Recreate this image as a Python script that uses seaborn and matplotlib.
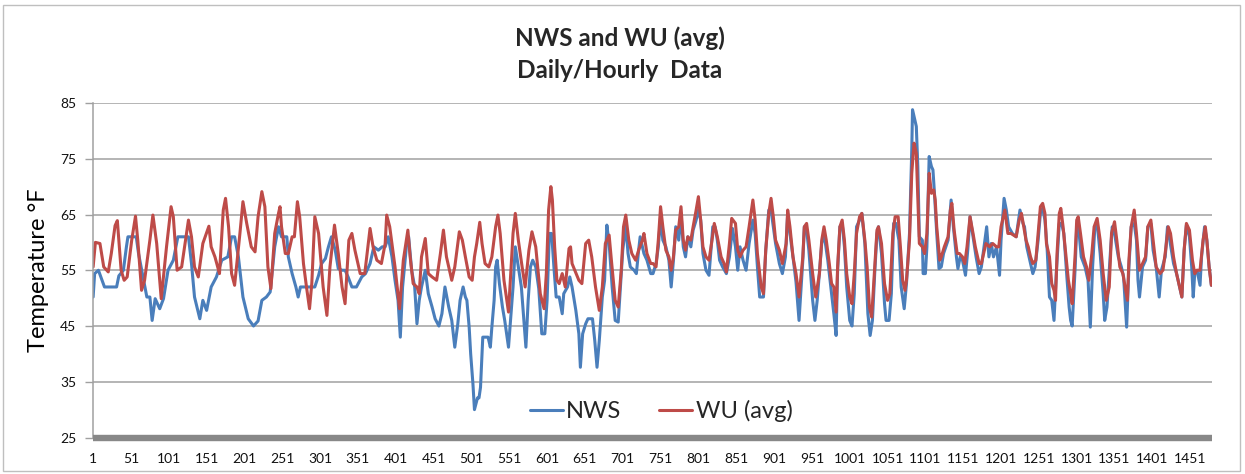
import numpy as np
import pandas as pd
import matplotlib
matplotlib.use('Agg')
import matplotlib.pyplot as plt
import seaborn as sns
from matplotlib.patches import Rectangle

# hourly readings at the turning points (hour index, deg F)
nws_x = [1, 3, 8, 12, 16, 32, 35, 41, 45, 47, 58, 61, 67, 72, 76, 79, 83, 89, 94, 100,
         107, 113, 127, 131, 135, 142, 146, 151, 157, 164, 171, 179, 184, 188, 193, 199, 206, 213, 219, 224,
         230, 235, 241, 246, 250, 257, 259, 264, 269, 272, 275, 294, 299, 303, 308, 312, 316, 321, 325, 330,
         334, 338, 343, 349, 356, 361, 367, 372, 378, 383, 387, 391, 396, 400, 404, 407, 410, 415, 418, 422,
         426, 429, 432, 435, 440, 444, 449, 453, 458, 462, 466, 471, 475, 479, 483, 486, 490, 493, 495, 498,
         500, 503, 505, 509, 511, 513, 516, 523, 526, 528, 531, 533, 535, 538, 542, 545, 550, 553, 556, 559,
         563, 567, 570, 573, 576, 579, 582, 586, 590, 594, 598, 601, 604, 607, 610, 613, 617, 621, 623, 628,
         631, 634, 639, 643, 645, 648, 652, 655, 661, 664, 667, 670, 674, 677, 680, 683, 687, 691, 695, 698,
         701, 705, 708, 711, 716, 719, 722, 724, 729, 733, 738, 741, 745, 748, 751, 754, 758, 762, 765, 768,
         771, 775, 778, 781, 784, 787, 791, 794, 798, 801, 804, 807, 811, 815, 820, 823, 826, 829, 833, 838,
         842, 846, 850, 853, 856, 860, 864, 868, 873, 876, 879, 882, 887, 890, 894, 897, 900, 903, 908, 912,
         916, 919, 922, 926, 930, 934, 939, 941, 944, 947, 952, 955, 958, 964, 967, 972, 976, 980, 983, 985,
         988, 991, 994, 997, 1001, 1004, 1007, 1010, 1014, 1017, 1021, 1025, 1028, 1031, 1034, 1037, 1039, 1043, 1047, 1049,
         1053, 1056, 1059, 1062, 1066, 1069, 1073, 1076, 1080, 1083, 1084, 1087, 1089, 1091, 1093, 1097, 1098, 1101, 1103, 1106,
         1109, 1111, 1113, 1116, 1119, 1122, 1125, 1131, 1135, 1138, 1142, 1144, 1147, 1150, 1154, 1157, 1160, 1164, 1168, 1172,
         1175, 1179, 1182, 1185, 1188, 1191, 1195, 1199, 1201, 1205, 1208, 1211, 1216, 1221, 1226, 1230, 1232, 1235, 1237, 1239,
         1243, 1246, 1250, 1253, 1256, 1259, 1262, 1265, 1268, 1271, 1274, 1278, 1281, 1284, 1288, 1291, 1293, 1295, 1299, 1301,
         1303, 1307, 1312, 1316, 1319, 1322, 1325, 1328, 1332, 1336, 1338, 1341, 1346, 1348, 1351, 1356, 1360, 1363, 1367, 1370,
         1373, 1377, 1380, 1382, 1384, 1388, 1392, 1395, 1399, 1402, 1406, 1410, 1413, 1418, 1421, 1424, 1429, 1433, 1437, 1440,
         1443, 1446, 1450, 1453, 1455, 1457, 1460, 1464, 1466, 1470, 1473, 1476, 1479]
nws_temp = [50.2, 54.4, 55, 53.5, 52, 52, 54, 55, 59.2, 61, 61, 58, 53.8, 50.2, 50.2, 46, 49.9, 48.1, 49.9, 55,
            56.8, 61, 61, 56.2, 50.2, 46.3, 49.6, 47.8, 52, 53.8, 56.8, 57.4, 61, 61, 57.4, 50.2, 46.3, 45, 45.9, 49.6,
            50.2, 51.1, 59.2, 62.8, 61, 61, 57.4, 54.4, 52, 50.2, 52, 52, 54.1, 56.2, 57.1, 59.2, 61, 58.6, 55.3, 55,
            55, 53.8, 52, 52, 53.8, 54.4, 56.2, 59.2, 58.6, 59.2, 59.2, 61, 57.4, 53.2, 49.6, 43, 52, 59.2, 61, 55,
            52, 45.4, 49.6, 52, 55, 50.8, 48.4, 46.3, 45, 47.2, 52, 48.4, 46, 41.2, 45.4, 49.6, 52, 50.2, 49.6, 44.8,
            40, 34.6, 30, 32.1, 32.1, 34, 43, 43, 41.2, 44.8, 49.6, 55.6, 56.8, 52.6, 48.4, 46, 41.2, 46.6, 52, 59.2,
            55.6, 52, 46.6, 41.2, 49.6, 55.6, 56.8, 55.6, 51.7, 43.6, 43.6, 49.6, 61.6, 61.6, 55.6, 50.2, 50.2, 47.2, 50.8, 52,
            53.8, 52, 47.8, 43.6, 37.6, 43.6, 45.4, 46.3, 46.3, 42.4, 37.6, 42.4, 50.2, 53.2, 63.1, 59.8, 52, 46, 45.7, 52,
            58.6, 63.1, 58, 55.6, 55, 54.4, 58.6, 61, 58, 56.8, 54.4, 54.4, 56.2, 59.2, 64.6, 60.4, 59.2, 56.8, 52, 56.8,
            62.8, 60.4, 65.2, 59.2, 57.4, 61, 59.2, 62.2, 64, 65.8, 64, 58, 55, 54.1, 62.8, 62.8, 60.4, 56.8, 55.6, 54.4,
            57.4, 62.5, 59.2, 55, 59.2, 56.8, 55, 59.8, 64, 61.6, 55.6, 50.2, 50.2, 58.6, 65.8, 65.8, 62.8, 59.8, 56.2, 54.4,
            57.4, 65.2, 61.6, 57.4, 52.9, 46, 56.8, 62.8, 62.2, 58.6, 49.6, 46, 49.6, 59.8, 61.6, 56.8, 52, 47.2, 43.3, 55,
            62.8, 63.4, 59.2, 52, 46, 45, 50.8, 62.8, 64, 65.2, 59.8, 47.2, 43.3, 46, 54.4, 61.6, 62.8, 58, 49, 46,
            46, 50.8, 63.4, 63.4, 60.4, 52, 48.1, 52.6, 61.6, 76.6, 83.8, 82, 80.8, 73.6, 61, 60.4, 54.4, 54.4, 59.2, 75.4,
            73.6, 73, 68.8, 61.6, 55.3, 55.6, 58, 60.4, 67.6, 62.8, 57.4, 55.3, 57.4, 56.8, 54.1, 58.6, 64.6, 61, 57.4, 54.4,
            55.6, 59.8, 62.8, 57.4, 59.8, 57.4, 59.2, 54.1, 60.4, 67.9, 65.8, 62.8, 61.6, 61, 65.8, 63.4, 62.8, 59.2, 58, 56.8,
            54.4, 55.6, 60.4, 65.2, 66.1, 64, 58.6, 50.2, 49.6, 46, 54.4, 63.4, 63.4, 61.6, 53.8, 48.4, 46, 45, 55.6, 62.8,
            63.4, 57.4, 55.6, 53.2, 44.8, 55.6, 62.8, 63.4, 58, 50.8, 46, 48.4, 59.2, 62.8, 61.6, 57.4, 55.6, 53.8, 44.8, 55.6,
            62.8, 63.4, 60.4, 53.2, 50.2, 55.6, 56.8, 62.8, 63.4, 58.6, 55.6, 50.2, 55, 57.4, 62.8, 60.4, 56.2, 54.4, 52, 50.2,
            58.6, 63.1, 61, 55.6, 50.2, 54.4, 55, 52.3, 57.4, 62.8, 60.4, 55.6, 52.3]

wu_x = [1, 4, 10, 15, 21, 25, 30, 33, 38, 42, 46, 52, 57, 60, 65, 69, 76, 80, 85, 91,
        98, 104, 107, 112, 118, 127, 131, 135, 140, 146, 154, 157, 162, 168, 173, 176, 180, 184, 188, 195,
        199, 204, 210, 215, 219, 224, 228, 232, 236, 241, 246, 248, 250, 255, 259, 264, 267, 271, 274, 279,
        283, 287, 290, 294, 299, 305, 310, 314, 320, 325, 330, 334, 339, 343, 347, 354, 360, 367, 371, 376,
        382, 387, 389, 393, 400, 406, 411, 417, 420, 424, 429, 432, 435, 440, 444, 449, 455, 460, 464, 468,
        475, 479, 485, 489, 493, 498, 502, 505, 508, 512, 515, 519, 524, 528, 533, 536, 539, 544, 550, 553,
        556, 559, 563, 568, 572, 577, 581, 586, 592, 597, 600, 603, 606, 608, 611, 614, 617, 621, 625, 630,
        632, 634, 643, 647, 652, 656, 660, 665, 670, 674, 678, 683, 686, 691, 695, 699, 702, 705, 709, 713,
        718, 722, 727, 729, 733, 738, 741, 745, 748, 751, 754, 758, 762, 765, 768, 771, 775, 778, 781, 784,
        787, 791, 794, 798, 801, 804, 807, 811, 815, 819, 822, 826, 831, 835, 838, 842, 845, 850, 853, 856,
        860, 864, 868, 873, 876, 879, 884, 887, 890, 894, 897, 900, 903, 908, 912, 917, 919, 922, 926, 930,
        934, 939, 941, 944, 947, 952, 956, 961, 964, 967, 970, 974, 977, 980, 983, 985, 988, 991, 994, 997,
        1001, 1004, 1007, 1010, 1014, 1017, 1021, 1024, 1027, 1030, 1034, 1037, 1039, 1043, 1047, 1051, 1054, 1058, 1061, 1065,
        1068, 1071, 1074, 1076, 1080, 1083, 1086, 1089, 1091, 1093, 1097, 1100, 1103, 1106, 1109, 1112, 1114, 1116, 1120, 1122,
        1126, 1131, 1134, 1136, 1139, 1143, 1146, 1150, 1153, 1156, 1160, 1164, 1167, 1172, 1175, 1178, 1181, 1186, 1190, 1195,
        1198, 1201, 1206, 1210, 1214, 1221, 1225, 1228, 1231, 1234, 1237, 1240, 1243, 1247, 1250, 1253, 1256, 1259, 1261, 1265,
        1268, 1271, 1273, 1275, 1278, 1280, 1283, 1287, 1290, 1293, 1295, 1299, 1301, 1303, 1306, 1310, 1314, 1317, 1321, 1324,
        1328, 1332, 1336, 1340, 1344, 1347, 1351, 1354, 1358, 1362, 1365, 1368, 1370, 1373, 1377, 1380, 1384, 1388, 1392, 1395,
        1399, 1402, 1406, 1411, 1415, 1419, 1422, 1425, 1429, 1433, 1436, 1440, 1443, 1446, 1450, 1454, 1457, 1460, 1464, 1468,
        1471, 1473, 1476, 1479]
wu_temp = [55.6, 60, 59.8, 55.6, 54.7, 58, 63, 63.9, 55, 53.2, 53.8, 60.4, 64.7, 60.4, 51.4, 53.2, 60.4, 64.9, 59.8, 49.9,
           59.2, 66.4, 64.6, 55, 55.6, 64, 61, 55.6, 53.8, 59.8, 62.9, 59.2, 57.4, 54.4, 65.8, 67.9, 62.8, 54.4, 52.3, 61.6,
           67.3, 63.4, 59.2, 58.3, 64.6, 69.1, 66.4, 55.6, 51.7, 61.6, 65.2, 66.4, 62.8, 58, 58, 61, 61, 67.3, 64.6, 56.2,
           52, 48.1, 52.6, 64.6, 61.6, 52, 46.9, 55.6, 63.1, 58, 52, 49, 60.4, 61.6, 58.6, 54.4, 54.4, 62.5, 59.2, 56.8,
           56.2, 59.8, 64.9, 62.8, 55.6, 48.1, 56.8, 62.2, 57.4, 52.6, 52, 50.8, 57.4, 60.7, 54.4, 53.8, 53.2, 58, 62.2, 57.4,
           53.2, 55.6, 61.9, 60.4, 57.4, 53.8, 53.2, 57.4, 59.8, 63.6, 59.8, 56.2, 55.6, 57.4, 62.8, 64.9, 61.6, 53.2, 47.5, 54.4,
           61.6, 65.2, 60.4, 55.6, 52, 58.6, 61.9, 59.2, 50.8, 48.1, 54.4, 65.8, 70, 67.6, 59.2, 53.2, 52.6, 54.4, 52, 58.9,
           59.2, 56.2, 53.2, 52.6, 59.8, 60.4, 57.4, 52, 47.8, 52, 59.8, 61.3, 56.8, 49.6, 48.4, 55, 62.8, 64.9, 60.4, 58,
           56.8, 58.6, 60.4, 61.6, 58, 56.2, 56.2, 55.6, 60.4, 66.4, 62.8, 58.6, 57.4, 55, 57.4, 62.2, 62.8, 66.4, 60.4, 58.6,
           61, 60.4, 62.8, 65.8, 68.2, 64, 59.2, 57.4, 56.8, 60.4, 63.4, 61, 57.4, 56.2, 54.7, 59.8, 64.3, 63.4, 58.6, 57.4,
           58.6, 59.2, 62.8, 67.6, 64, 58, 52, 50.8, 58.6, 65.2, 67.9, 64.6, 60.4, 58.6, 56.2, 59.8, 65.8, 62.8, 57.4, 54.4,
           50.2, 57.4, 62.8, 63.4, 60.4, 54.4, 50.2, 54.4, 60.4, 62.8, 60.4, 56.2, 52.6, 52, 47.5, 55.6, 62.8, 64, 60.4, 54.4,
           50.2, 49, 54.4, 61.6, 64.6, 65.2, 60.4, 55.6, 48.4, 46.6, 55.6, 62.2, 62.8, 59.8, 52.6, 49.6, 50.8, 61.6, 64.6, 64.6,
           59.2, 53.2, 51.4, 53.2, 60.4, 72.4, 77.8, 76, 67.6, 59.8, 59.2, 58, 61.6, 72.4, 68.8, 69.4, 67.6, 62.8, 56.8, 57.4,
           59.2, 61, 65.8, 67, 62.2, 58, 58, 57.4, 56.2, 59.2, 64.6, 61.6, 59.2, 56.2, 56.2, 58, 59.8, 59.2, 59.8, 59.2,
           59.2, 62.8, 65.8, 61.6, 61.6, 61, 64, 65.2, 62.8, 60.4, 59.2, 57.4, 56.2, 56.8, 61.6, 66.4, 67, 65.2, 59.8, 57.4,
           52.6, 51.4, 49.6, 58, 65.2, 66.1, 62.8, 57.4, 53.2, 50.8, 49, 58, 64, 64.6, 61.6, 57.4, 55.6, 53.2, 58, 62.8,
           64.3, 60.4, 54.4, 49.6, 52, 61.6, 63.7, 60.4, 55.6, 54.4, 52, 49.6, 56.8, 62.8, 65.8, 61.6, 55, 56.2, 57.4, 62.8,
           64, 60.4, 55.6, 54.4, 55, 59.2, 62.8, 61.6, 57.4, 54.4, 52.6, 50.2, 58.6, 63.4, 62.2, 56.8, 54.4, 55, 55, 60.4,
           62.8, 60.4, 55.6, 52.3]

x_ticks = list(range(1, 1452, 50))
y_ticks = [25, 35, 45, 55, 65, 75, 85]

nws_color = '#4A7EBB'
wu_color = '#BE4B48'

sns.set_style('white')
plt.rcParams['font.family'] = ['Lato', 'DejaVu Sans']

fig = plt.figure(figsize=(12.45, 4.74), dpi=100)
ax = fig.add_axes([0.0745, 0.077, 0.8988, 0.7057])

for y in y_ticks[1:]:
    ax.axhline(y, color='#A0A0A0', lw=1.1, zorder=0)

sns.lineplot(x=nws_x, y=nws_temp, color=nws_color, lw=2.2, label='NWS', ax=ax)
sns.lineplot(x=wu_x, y=wu_temp, color=wu_color, lw=2.2, label='WU (avg)', ax=ax)

ax.set_xlim(0.5, 1479.5)
ax.set_ylim(25, 85)
ax.set_xticks(x_ticks)
ax.set_xticklabels([str(t) for t in x_ticks], fontsize=10, color='#111111')
ax.set_yticks(y_ticks)
ax.set_yticklabels([str(t) for t in y_ticks], fontsize=10, color='#111111')
ax.tick_params(axis='x', length=0, pad=11)
ax.tick_params(axis='y', length=6, width=1, color='#A0A0A0', pad=6, direction='out', left=True)

for s in ['top', 'right']:
    ax.spines[s].set_visible(False)
ax.spines['left'].set_color('#A0A0A0')
ax.spines['left'].set_linewidth(1.1)
ax.spines['bottom'].set_color('#888888')
ax.spines['bottom'].set_linewidth(4.6)
ax.spines['bottom'].set_capstyle('butt')

ax.set_xlabel('')
ax.set_ylabel('Temperature °F', fontsize=17, labelpad=8, color='black')

ax.legend(loc='center', bbox_to_anchor=(0.508, 0.08), ncol=2, frameon=False,
          fontsize=17, handlelength=1.4, handletextpad=0.15, columnspacing=1.6)

fig.text(0.498, 1 - 38 / 474, 'NWS and WU (avg)', ha='center', va='center',
         fontsize=17.5, fontweight='bold')
fig.text(0.498, 1 - 70 / 474, 'Daily/Hourly  Data', ha='center', va='center',
         fontsize=17.5, fontweight='bold')

# outer chart frame
fig.patches.append(Rectangle((3 / 1245, 3 / 474), 1237 / 1245, 466 / 474,
                             transform=fig.transFigure, fill=False,
                             edgecolor='#BFBFBF', lw=1))

plt.savefig('out.png', dpi=100)
